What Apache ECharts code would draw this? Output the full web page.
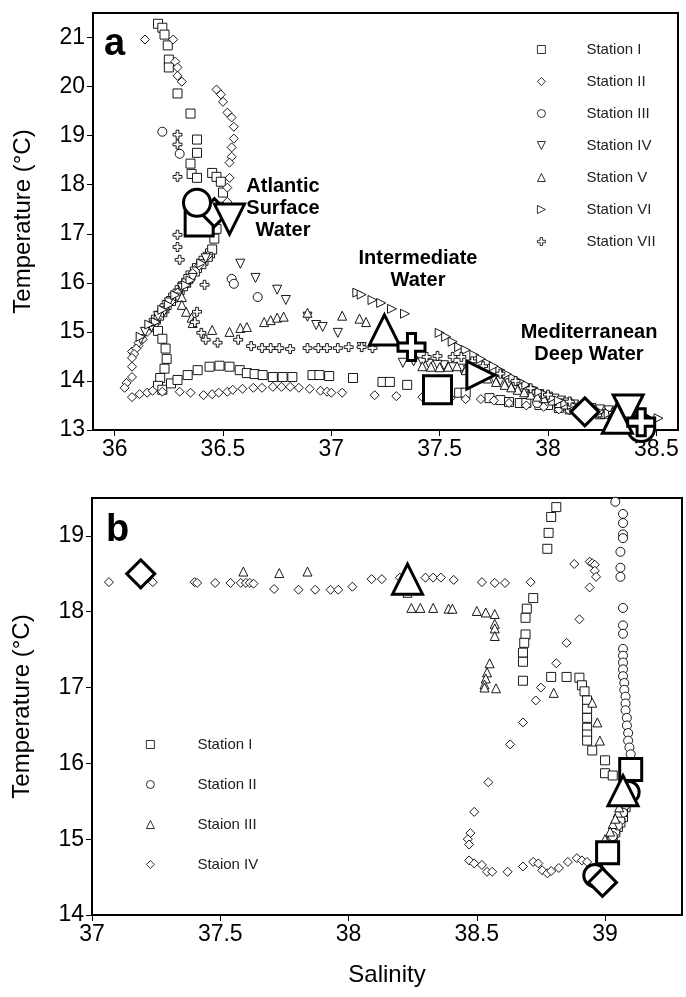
<!DOCTYPE html>
<html>
<head>
<meta charset="utf-8">
<script src="https://cdn.jsdelivr.net/npm/echarts@6/dist/echarts.min.js"></script>
<style>
  html, body { margin: 0; padding: 0; background: #fff; }
  #chart { width: 686px; height: 997px; }
</style>
</head>
<body>
<div id="chart"></div>
<script>
// panel a: T-S points per station, [salinity, temperature]
var aStation1 = [[36.2,21.28],[36.22,21.2],[36.23,21.06],[36.245,20.84],[36.25,20.55],[36.25,20.39],[36.29,19.86],[36.35,19.45],[36.38,18.92],[36.38,18.65],[36.35,18.43],[36.355,18.22],[36.38,18.14],[36.45,18.24],[36.47,18.16],[36.49,18.06],[36.5,17.84],[36.49,17.55],[36.48,17.39],[36.47,17.1],[36.46,16.9],
  [36.44,16.6],[36.41,16.45],[36.38,16.3],[36.35,16.15],[36.33,16.0],[36.3,15.85],[36.27,15.7],[36.24,15.55],[36.22,15.4],[36.19,15.25],[36.17,15.1],
  [36.45,16.68],[36.43,16.53],[36.4,16.38],[36.37,16.23],[36.34,16.08],[36.315,15.93],[36.29,15.78],[36.26,15.63],[36.23,15.48],[36.205,15.33],[36.18,15.18],
  [36.2,15.02],[36.22,14.86],[36.235,14.66],[36.24,14.45],[36.23,14.25],[36.21,14.06],[36.2,13.9],[36.22,13.82],
  [36.26,13.95],[36.29,14.02],[36.337,14.12],[36.383,14.22],[36.438,14.29],[36.484,14.31],[36.53,14.29],[36.577,14.22],[36.61,14.16],[36.646,14.14],[36.683,14.12],[36.73,14.08],[36.775,14.08],[36.82,14.08],[36.913,14.12],[36.945,14.12],[36.99,14.1],[37.1,14.06],[37.236,13.98],[37.27,13.98],[37.35,13.92],[37.59,13.76],[37.62,13.76],[37.73,13.65],[37.78,13.61],[37.82,13.57],[37.87,13.55],[37.9,13.55],[37.96,13.51],[38.0,13.51],[38.05,13.45],[38.1,13.42],[38.16,13.38],[38.24,13.32]];
var aStation1Big = [[36.39,17.24],[37.49,13.82]];

var aStation2 = [[36.14,20.96],[36.27,20.96],[36.28,20.51],[36.29,20.39],[36.29,20.22],[36.31,20.1],[36.47,19.94],[36.49,19.84],[36.5,19.69],[36.52,19.47],[36.54,19.37],[36.55,19.18],[36.55,18.94],[36.54,18.76],[36.54,18.57],[36.53,18.45],[36.53,18.14],[36.52,17.94],[36.52,17.65],
  [36.43,16.55],[36.39,16.35],[36.36,16.2],[36.32,16.0],[36.29,15.8],[36.26,15.62],[36.23,15.45],[36.2,15.3],[36.17,15.15],[36.15,15.0],[36.13,14.85],[36.11,14.72],[36.08,14.6],[36.11,14.78],[36.1,14.66],[36.09,14.55],[36.08,14.47],[36.08,14.29],[36.08,14.08],[36.055,13.96],[36.046,13.86],[36.08,13.67],[36.115,13.73],[36.15,13.76],[36.175,13.8],[36.22,13.78],
  [36.3,13.78],[36.35,13.76],[36.41,13.71],[36.45,13.73],[36.48,13.76],[36.52,13.78],[36.545,13.82],[36.59,13.84],[36.64,13.86],[36.68,13.86],[36.73,13.88],[36.77,13.88],[36.81,13.88],[36.85,13.86],[36.9,13.84],[36.95,13.8],[36.98,13.78],[37.0,13.76],[37.05,13.76],[37.2,13.71],[37.3,13.69],[37.42,13.67],[37.55,13.65],[37.62,13.63],[37.69,13.63],[37.75,13.6],[37.82,13.55],[37.9,13.5],[37.98,13.47],[38.05,13.42],[38.1,13.4],[38.23,13.33],[38.28,13.3]];
var aStation2Big = [[36.46,17.43],[38.17,13.37]];

var aStation3 = [[36.22,19.08],[36.3,18.63],[36.54,16.08],[36.55,15.98],[36.66,15.71],[37.95,13.55],[38.1,13.42],[38.2,13.35],[38.3,13.25],[38.36,13.18]];
var aStation3Big = [[36.38,17.63],[38.43,13.04]];

var aStation4 = [[36.58,16.39],[36.65,16.1],[36.75,15.86],[36.79,15.65],[36.89,15.31],[36.93,15.14],[36.96,15.1],[37.03,14.98],[37.14,14.69],[37.33,14.37],[37.38,14.4],[37.45,14.35],[37.52,14.32],[37.6,14.25],[37.66,14.2],[37.75,14.05],[37.82,13.95],[37.88,13.85],[37.93,13.78],[38.0,13.68],[38.06,13.6],[38.12,13.52],[38.2,13.45],[38.28,13.4],
  [37.42,14.38],[37.49,14.33],[37.56,14.28],[37.63,14.22],[37.7,14.12],[37.78,14.0],[37.85,13.9],[37.9,13.82],[37.96,13.73],[38.03,13.64],[38.09,13.56],[38.16,13.48],[38.24,13.42],[38.32,13.38],
  [36.42,16.5],[36.36,16.1],[36.31,15.9],[36.29,15.7],[36.25,15.6],[36.23,15.42],[36.2,15.32],[36.17,15.1],[36.14,15.0],[36.12,14.85]];
var aStation4Big = [[36.53,17.3],[38.37,13.41]];

var aStation5 = [[36.31,15.71],[36.31,15.55],[36.33,15.41],[36.355,15.29],[36.36,15.18],[36.45,15.04],[36.53,15.0],[36.58,15.08],[36.61,15.1],[36.69,15.2],[36.72,15.24],[36.75,15.29],[36.78,15.31],[36.89,15.39],[37.05,15.33],[37.13,15.27],[37.16,15.2],[37.42,14.3],[37.5,14.28],[37.58,14.3],[37.65,14.15],[37.72,14.05],[37.8,13.92],[37.86,13.82],[37.92,13.72],[37.98,13.65],[38.05,13.55],[38.12,13.48],[38.2,13.4],[38.26,13.33],
  [37.46,14.29],[37.54,14.29],[37.62,14.22],[37.68,14.1],[37.76,13.98],[37.83,13.87],[37.89,13.77],[37.95,13.68],[38.02,13.6],[38.08,13.52],[38.16,13.44],[38.23,13.36],[38.3,13.3]];
var aStation5Big = [[37.245,15.04],[38.32,13.24]];

var aStation6 = [[37.12,15.8],[37.14,15.76],[37.19,15.65],[37.23,15.59],[37.28,15.47],[37.34,15.37],[37.5,14.98],[37.53,14.9],[37.56,14.8],[37.59,14.69],[37.62,14.63],[37.66,14.53],[37.72,14.37],[37.78,14.22],[37.84,14.06],[37.9,13.92],[37.96,13.78],[38.02,13.65],[38.08,13.55],[38.14,13.47],[38.24,13.37],[38.33,13.31],[38.42,13.27],[38.51,13.24],
  [37.69,14.45],[37.75,14.3],[37.81,14.14],[37.87,13.99],[37.93,13.85],[37.99,13.72],[38.05,13.6],[38.11,13.51],[38.19,13.42],[38.28,13.34],[38.37,13.29],[38.46,13.25],
  [36.4,16.4],[36.35,16.05],[36.33,15.95],[36.28,15.75],[36.25,15.55],[36.22,15.45],[36.19,15.2],[36.16,15.15],[36.12,14.9]];
var aStation6Big = [[37.69,14.12]];

var aStation7 = [[36.29,19.02],[36.29,18.82],[36.29,18.16],[36.29,16.98],[36.29,16.73],[36.3,16.47],[36.415,15.96],[36.38,15.41],[36.37,15.2],[36.4,14.98],[36.42,14.84],[36.475,14.78],[36.57,14.84],[36.63,14.71],[36.68,14.67],[36.72,14.67],[36.76,14.67],[36.81,14.65],[36.89,14.67],[36.94,14.67],[36.98,14.67],[37.03,14.67],[37.08,14.69],[37.14,14.69],[37.19,14.67],[37.44,14.49],[37.49,14.51],[37.56,14.49],[37.6,14.49],[37.65,14.4],[37.7,14.3],[37.78,14.15],[37.85,14.0],[37.92,13.85],[38.0,13.72],[38.1,13.58],[38.2,13.45],[38.3,13.35]];
var aStation7Big = [[37.37,14.69],[38.43,13.16]];

// panel b
var bStation1 = [[38.81,19.38],[38.79,19.25],[38.78,19.04],[38.775,18.83],[38.72,18.18],[38.695,18.04],[38.69,17.92],[38.69,17.7],[38.685,17.59],[38.68,17.46],[38.68,17.34],[38.68,17.09],[38.79,17.14],[38.85,17.14],[38.9,17.13],[38.91,17.03],[38.92,16.95],[38.93,16.83],[38.93,16.72],[38.93,16.6],[38.93,16.47],[38.93,16.38],[38.93,16.3],[38.95,16.17],[39.0,16.04],[39.0,15.87],[39.03,15.84],[39.08,15.42],[39.07,15.29],[39.05,15.16],[39.03,15.03],[39.02,14.95],
  [39.07,15.36],[39.06,15.22],[39.04,15.09],[39.025,14.99]];
var bStation1Big = [[39.1,15.92],[39.01,14.82]];

var bStation2 = [[39.04,19.45],[39.07,19.29],[39.07,19.17],[39.07,19.02],[39.07,18.97],[39.06,18.79],[39.06,18.58],[39.06,18.46],[39.07,18.05],[39.07,17.82],[39.07,17.71],[39.07,17.51],[39.07,17.42],[39.07,17.33],[39.07,17.24],[39.07,17.15],[39.075,17.06],[39.075,16.97],[39.08,16.88],[39.08,16.79],[39.08,16.7],[39.085,16.6],[39.085,16.5],[39.09,16.4],[39.09,16.3],[39.095,16.21],[39.1,16.12],[39.08,15.45],[39.06,15.25],[39.04,15.1],[39.02,14.98],[39.0,14.85],[38.98,14.7],
  [39.09,15.52],[39.07,15.35],[39.05,15.18],[39.03,15.04],[39.01,14.92],[38.99,14.78]];
var bStation2Big = [[39.09,15.62],[38.96,14.52]];

var bStation3 = [[37.59,18.53],[37.73,18.51],[37.84,18.53],[38.23,18.25],[38.245,18.05],[38.28,18.05],[38.33,18.05],[38.39,18.04],[38.405,18.04],[38.5,18.01],[38.535,17.99],[38.57,17.97],[38.57,17.84],[38.57,17.78],[38.57,17.68],[38.55,17.32],[38.54,17.2],[38.535,17.12],[38.53,17.04],[38.53,17.0],[38.575,16.99],[38.8,16.93],[38.95,16.8],[38.97,16.54],[38.98,16.3],[39.06,15.5],[39.05,15.35],[39.03,15.2],[39.0,15.0],
  [39.055,15.42],[39.04,15.27],[39.02,15.1],[39.01,14.95]];
var bStation3Big = [[38.23,18.43],[39.07,15.64]];

var bStation4 = [[37.066,18.39],[37.237,18.39],[37.4,18.39],[37.41,18.38],[37.48,18.38],[37.54,18.38],[37.58,18.38],[37.6,18.38],[37.615,18.38],[37.63,18.37],[37.71,18.3],[37.805,18.29],[37.87,18.29],[37.93,18.29],[37.96,18.29],[38.015,18.33],[38.09,18.43],[38.13,18.43],[38.2,18.45],[38.3,18.45],[38.33,18.45],[38.36,18.45],[38.41,18.42],[38.52,18.39],[38.57,18.38],[38.61,18.38],[38.71,18.39],[38.88,18.63],[38.94,18.66],[38.95,18.64],[38.96,18.62],[38.96,18.54],[38.965,18.46],[38.94,18.32],[38.9,17.9],[38.85,17.59],[38.81,17.32],[38.75,17.0],[38.73,16.83],[38.68,16.54],[38.63,16.25],[38.545,15.75],[38.49,15.36],[38.475,15.08],[38.465,15.0],[38.47,14.93],[38.47,14.72],[38.49,14.68],[38.52,14.66],[38.54,14.57],[38.56,14.57],[38.62,14.57],[38.68,14.64],[38.72,14.7],[38.74,14.68],[38.755,14.59],[38.775,14.55],[38.79,14.58],[38.82,14.62],[38.855,14.7],[38.89,14.75],[38.91,14.72],[38.93,14.7],[39.03,14.82]];
var bStation4Big = [[37.19,18.5],[38.99,14.43]];

var aNames = ['Station I', 'Station II', 'Station III', 'Station IV', 'Station V', 'Station VI', 'Station VII'];
var bNames = ['Station I', 'Station II', 'Staion III', 'Staion IV'];

var SQUARE = 'rect';
var DIAMOND = 'diamond';
var CIRCLE = 'circle';
var TRI_UP = 'triangle';
var TRI_DOWN = 'path://M0,0L10,0L5,10Z';
var TRI_RIGHT = 'path://M0,0L10,5L0,10Z';
var PLUS = 'path://M3.5,0H6.5V3.5H10V6.5H6.5V10H3.5V6.5H0V3.5H3.5Z';

var FONT = '"Liberation Sans Narrow", "Liberation Sans", Arial, sans-serif';
var BOLD = '"Liberation Sans", Arial, sans-serif';

function station(name, grid, symbol, small, big, bigSize) {
  var base = {
    type: 'scatter',
    name: name,
    xAxisIndex: grid,
    yAxisIndex: grid,
    symbol: symbol,
    silent: true,
    animation: false
  };
  return [
    Object.assign({}, base, {
      data: small, symbolSize: 9, z: 2,
      itemStyle: { color: '#fff', borderColor: '#000', borderWidth: 0.9, opacity: 1 }
    }),
    Object.assign({}, base, {
      data: big, symbolSize: bigSize, z: 5,
      itemStyle: { color: '#fff', borderColor: '#000', borderWidth: 3, opacity: 1 }
    })
  ];
}

var series = [].concat(
  station('Station I', 0, SQUARE, aStation1, aStation1Big, 28),
  station('Station II', 0, DIAMOND, aStation2, aStation2Big, 28),
  station('Station III', 0, CIRCLE, aStation3, aStation3Big, 27),
  station('Station IV', 0, TRI_DOWN, aStation4, aStation4Big, 30),
  station('Station V', 0, TRI_UP, aStation5, aStation5Big, 30),
  station('Station VI', 0, TRI_RIGHT, aStation6, aStation6Big, 28),
  station('Station VII', 0, PLUS, aStation7, aStation7Big, 27),
  station('Station I', 1, SQUARE, bStation1, bStation1Big, 22),
  station('Station II', 1, CIRCLE, bStation2, bStation2Big, 22),
  station('Staion III', 1, TRI_UP, bStation3, bStation3Big, 30),
  station('Staion IV', 1, DIAMOND, bStation4, bStation4Big, 28)
);

var aIcons = [SQUARE, DIAMOND, CIRCLE, TRI_DOWN, TRI_UP, TRI_RIGHT, PLUS];
var bIcons = [SQUARE, CIRCLE, TRI_UP, DIAMOND];

function legendData(names, icons) {
  return names.map(function (n, i) {
    return { name: n, icon: icons[i], itemStyle: { color: '#fff', borderColor: '#000', borderWidth: 0.8 } };
  });
}

function xAxis(grid, min, max, name) {
  return {
    type: 'value', gridIndex: grid, min: min, max: max,
    name: name, nameLocation: 'middle', nameGap: 48,
    nameTextStyle: { fontFamily: FONT, fontSize: 24, color: '#000' },
    axisLine: { onZero: false, lineStyle: { color: '#000', width: 2 } },
    axisTick: { inside: false, length: 6, lineStyle: { color: '#000', width: 1 } },
    axisLabel: { fontFamily: FONT, fontSize: 23, color: '#000', margin: 8, showMinLabel: grid === 1, showMaxLabel: false },
    splitLine: { show: false }
  };
}

function yAxis(grid, min, max) {
  return {
    type: 'value', gridIndex: grid, min: min, max: max, interval: 1,
    name: 'Temperature (°C)', nameLocation: 'middle', nameGap: 58,
    nameTextStyle: { fontFamily: FONT, fontSize: 24, color: '#000' },
    axisLine: { onZero: false, lineStyle: { color: '#000', width: 2 } },
    axisTick: { inside: false, length: 6, lineStyle: { color: '#000', width: 1 } },
    axisLabel: { fontFamily: FONT, fontSize: 23, color: '#000', margin: 8, showMaxLabel: false },
    splitLine: { show: false }
  };
}

var chart = echarts.init(document.getElementById('chart'));
chart.setOption({
  backgroundColor: '#fff',
  animation: false,
  grid: [
    { left: 93, top: 13, width: 585, height: 417, show: true, borderColor: '#000', borderWidth: 2, backgroundColor: 'transparent' },
    { left: 92, top: 498, width: 590, height: 417, show: true, borderColor: '#000', borderWidth: 2, backgroundColor: 'transparent' }
  ],
  xAxis: [xAxis(0, 35.9, 38.6, ''), xAxis(1, 37, 39.3, 'Salinity')],
  yAxis: [yAxis(0, 13, 21.5), yAxis(1, 14, 19.5)],
  legend: [
    {
      orient: 'vertical', left: 532, top: 37, itemWidth: 8, itemHeight: 8, itemGap: 17,
      selectedMode: false, data: legendData(aNames, aIcons),
      textStyle: { fontFamily: BOLD, fontSize: 15, color: '#222', padding: [0, 0, 0, 36] }
    },
    {
      orient: 'vertical', left: 141, top: 732, itemWidth: 8, itemHeight: 8, itemGap: 25,
      selectedMode: false, data: legendData(bNames, bIcons),
      textStyle: { fontFamily: BOLD, fontSize: 15, color: '#222', padding: [0, 0, 0, 38] }
    }
  ],
  graphic: [
    { type: 'text', left: 104, top: 26, style: { text: 'a', font: 'bold 38px ' + BOLD, fill: '#000' } },
    { type: 'text', left: 106, top: 512, style: { text: 'b', font: 'bold 38px ' + BOLD, fill: '#000' } },
    { type: 'text', x: 283, y: 208, style: { text: 'Atlantic\nSurface\nWater', font: 'bold 20px ' + BOLD, lineHeight: 22, textAlign: 'center', textVerticalAlign: 'middle', fill: '#000' } },
    { type: 'text', x: 418, y: 269, style: { text: 'Intermediate\nWater', font: 'bold 20px ' + BOLD, lineHeight: 22, textAlign: 'center', textVerticalAlign: 'middle', fill: '#000' } },
    { type: 'text', x: 589, y: 343, style: { text: 'Mediterranean\nDeep Water', font: 'bold 20px ' + BOLD, lineHeight: 22, textAlign: 'center', textVerticalAlign: 'middle', fill: '#000' } }
  ],
  series: series
});
</script>
</body>
</html>
